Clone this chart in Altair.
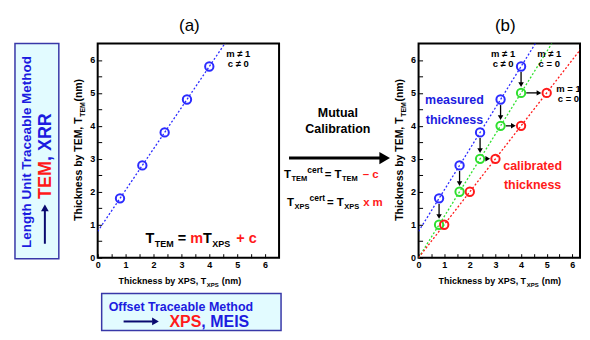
import altair as alt
import pandas as pd

# ---------------- data ----------------
txps_measured = [0.8, 1.6, 2.4, 3.2, 4.0]      # XPS thickness (nm), as measured
ttem_measured = [1.8, 2.8, 3.8, 4.8, 5.8]      # TEM thickness (nm), as measured
ttem_certified = [1.0, 2.0, 3.0, 4.0, 5.0]     # TEM thickness after "- c"
txps_certified = [1.0, 2.0, 3.0, 4.0, 5.0]     # XPS thickness after "x m"

measured_line_x = [0.0, 4.6]
measured_line_y = [0.8, 6.55]
tem_cert_line_x = [0.0, 5.2]
tem_cert_line_y = [0.0, 6.5]
calibrated_line_x = [0.0, 6.5]
calibrated_line_y = [0.0, 6.5]

tick_values = [0, 0.5, 1, 1.5, 2, 2.5, 3, 3.5, 4, 4.5, 5, 5.5, 6]

# ---------------- style ----------------
BLUE = "#2b2bff"
GREEN = "#2fe02f"
RED = "#ff1a1a"
TBLUE = "#1c1ce0"
NAVY = "#0a0a70"
BOXLINE = "#3838a8"
CYAN = "#e2fbff"
SANS = "Liberation Sans, Arial, sans-serif"

W_A, W_B, H = 182, 162, 215
XMAX_A, XMAX_B, YMAX = 6.5, 6.3, 6.5

AW = {' ': 278, 'T': 611, 'E': 667, 'M': 833, 'X': 667, 'P': 667, 'S': 667, 'c': 556,
      'e': 556, 'r': 389, 't': 333, 'm': 889, '=': 584, '–': 556, '+': 584, 'x': 556, 'h': 611,
      'i': 278, 'k': 556, 'n': 611, 's': 556, 'b': 611, 'y': 556, ',': 278, '(': 333, ')': 333,
      'R': 722, 'a': 556, 'l': 278, 'u': 611, 'd': 611, 'o': 611, 'f': 333, 'g': 611, 'L': 611,
      'U': 722, 'C': 722, '0': 556, '1': 556, '≠': 584}


def tw(s, size):
    return sum(AW.get(ch, 556) for ch in s) * size / 1000


def txt(x, y, s, size, color="black", weight="bold", align="left",
        baseline="alphabetic", angle=None):
    kw = dict(align=align, baseline=baseline, font=SANS, fontSize=size, fontWeight=weight, color=color)
    if angle is not None:
        kw["angle"] = angle
    return alt.Chart().mark_text(**kw).encode(x=alt.value(x), y=alt.value(y), text=alt.value(s))


def run_h(segs, x0, y0):
    """segs: (text, size, color, dy, gap-before in px); no leading/trailing spaces in text"""
    out, x = [], x0
    for s, size, color, dy, gap in segs:
        x += gap
        out.append(txt(x, y0 + dy, s, size, color))
        x += tw(s, size)
    return out


def run_v(segs, x0, y0):
    out, y = [], y0
    for s, size, color, dx, gap in segs:
        y -= gap
        out.append(txt(x0 + dx, y, s, size, color, angle=270))
        y -= tw(s, size)
    return out


def axis():
    return alt.Axis(values=tick_values,
                    labelExpr="datum.value % 1 === 0 ? '' + datum.value : ''",
                    tickSize=4, offset=-4, domain=False, grid=False, title=None,
                    labelFont=SANS, labelFontSize=9, labelFontWeight="bold", labelColor="black",
                    tickColor="black", tickWidth=1, labelPadding=3, labelFlush=False,
                    labelOverlap=False)


def X(xmax, field="x"):
    return alt.X(f"{field}:Q", scale=alt.Scale(domain=[0, xmax], nice=False, zero=False), axis=axis())


def Y(field="y"):
    return alt.Y(f"{field}:Q", scale=alt.Scale(domain=[0, YMAX], nice=False, zero=False), axis=axis())


def line(xs, ys, color, xmax):
    df = pd.DataFrame({"x": xs, "y": ys})
    return alt.Chart(df).mark_line(color=color, strokeDash=[2, 2], strokeWidth=1.3, clip=True).encode(
        x=X(xmax), y=Y())


def pts(xs, ys, color, xmax):
    df = pd.DataFrame({"x": xs, "y": ys})
    return alt.Chart(df).mark_point(shape="circle", filled=False, size=70, strokeWidth=2,
                                    color=color, opacity=1).encode(x=X(xmax), y=Y())


K = "black"

# ---------------- panel (a) ----------------
ax = lambda v: v * W_A / XMAX_A
ay = lambda v: H - v * H / YMAX

a_layers = [
    line(measured_line_x, measured_line_y, BLUE, XMAX_A),
    pts(txps_measured, ttem_measured, BLUE, XMAX_A),
    txt(92, -17, "(a)", 17, K, weight="normal", align="center", baseline="middle"),
    txt(ax(5.04), ay(6.19), "m ≠ 1", 9.5, K, align="center", baseline="middle"),
    txt(ax(5.04), ay(5.87), "c ≠ 0", 9.5, K, align="center", baseline="middle"),
]
a_layers += run_h([("T", 14.5, K, 0, 0), ("TEM", 9, K, 4, 0.5), ("=", 14.5, K, 0, 4),
                   ("m", 14.5, RED, 0, 4), ("T", 14.5, K, 0, 0), ("XPS", 9, K, 4, 0.5),
                   ("+", 14.5, RED, 0, 6), ("c", 14.5, RED, 0, 4)], 48, 200)
a_layers += run_h([("Thickness by XPS, T", 9, K, 0, 0), ("XPS", 6, K, 3, 0.5),
                   ("(nm)", 9, K, 0, 3)], 21, 241)
a_layers += run_v([("Thickness by TEM, T", 10.5, K, 0, 0), ("TEM", 7, K, 3, 0.5),
                   ("(nm)", 10.5, K, 0, 0.5)], -16, 178)

# left box (length-unit traceable method)
a_layers += [
    alt.Chart().mark_rect(fill=CYAN, stroke=BOXLINE, strokeWidth=1.5).encode(
        x=alt.value(-83), x2=alt.value(-39), y=alt.value(0), y2=alt.value(216)),
    txt(-71, 109, "Length Unit Traceable Method", 13.5, TBLUE, align="center",
        baseline="middle", angle=270),
    alt.Chart().mark_rule(color=NAVY, strokeWidth=2).encode(
        x=alt.value(-53), y=alt.value(201), y2=alt.value(168)),
    alt.Chart().mark_point(shape="triangle-up", filled=True, size=60, color=NAVY, opacity=1).encode(
        x=alt.value(-53), y=alt.value(165)),
]
a_layers += run_v([("TEM", 18, RED, 0, 0), (",", 18, TBLUE, 0, 0), ("XRR", 18, TBLUE, 0, 5)], -47, 156)

# bottom box (offset traceable method)
a_layers += [
    alt.Chart().mark_rect(fill=CYAN, stroke=BOXLINE, strokeWidth=1.5).encode(
        x=alt.value(4), x2=alt.value(184), y=alt.value(251), y2=alt.value(288)),
    txt(11, 264, "Offset Traceable Method", 12.5, TBLUE, baseline="middle"),
    alt.Chart().mark_rule(color=NAVY, strokeWidth=2).encode(
        x=alt.value(26), x2=alt.value(55), y=alt.value(279)),
    alt.Chart().mark_point(shape="triangle-right", filled=True, size=60, color=NAVY, opacity=1).encode(
        x=alt.value(58), y=alt.value(279)),
]
a_layers += run_h([("XPS", 16, RED, 0, 0), (",", 16, TBLUE, 0, 0), ("MEIS", 16, TBLUE, 0, 4.5)], 72, 285)

# middle: mutual calibration
a_layers += [
    txt(241, 70, "Mutual", 12.5, K, align="center", baseline="middle"),
    txt(241, 86, "Calibration", 12.5, K, align="center", baseline="middle"),
    alt.Chart().mark_rule(color=K, strokeWidth=3).encode(
        x=alt.value(192), x2=alt.value(284), y=alt.value(115)),
    alt.Chart().mark_point(shape="triangle-right", filled=True, size=150, color=K, opacity=1).encode(
        x=alt.value(288), y=alt.value(115)),
]
a_layers += run_h([("T", 11.5, K, 0, 0), ("TEM", 7.5, K, 3, 0.5), ("cert", 8.5, K, -5, 0),
                   ("=", 11.5, K, 0, 2), ("T", 11.5, K, 0, 3), ("TEM", 7.5, K, 3, 0.5),
                   ("–", 11.5, RED, 0, 5), ("c", 11.5, RED, 0, 3)], 187, 135)
a_layers += run_h([("T", 11.5, K, 0, 0), ("XPS", 7.5, K, 3, 0.5), ("cert", 8.5, K, -5, 0),
                   ("=", 11.5, K, 0, 2), ("T", 11.5, K, 0, 3), ("XPS", 7.5, K, 3, 0.5),
                   ("x", 11.5, RED, 0, 4), ("m", 11.5, RED, 0, 3)], 190, 163)

panel_a = alt.layer(*a_layers).properties(width=W_A, height=H)

# ---------------- panel (b) ----------------
bx = lambda v: v * W_B / XMAX_B
by = lambda v: H - v * H / YMAX

va = pd.DataFrame({"x": txps_measured,
                   "y": [v - 0.17 for v in ttem_measured],
                   "y2": [v + 0.25 for v in ttem_certified]})
va_head = pd.DataFrame({"x": txps_measured, "y": [v + 0.25 for v in ttem_certified]})
ha = pd.DataFrame({"xg": txps_measured, "xr": txps_certified, "y": ttem_certified})
ha = ha[ha["xr"] - ha["xg"] > 0.5]
ha = ha.assign(x=ha["xg"] + 0.2, x2=ha["xr"] - 0.3)
ha_head = pd.DataFrame({"x": ha["x2"], "y": ha["y"]})

b_layers = [
    line(measured_line_x, measured_line_y, BLUE, XMAX_B),
    line(tem_cert_line_x, tem_cert_line_y, GREEN, XMAX_B),
    line(calibrated_line_x, calibrated_line_y, RED, XMAX_B),
    alt.Chart(va).mark_rule(color=K, strokeWidth=1.3).encode(x=X(XMAX_B), y=Y(), y2="y2:Q"),
    alt.Chart(va_head).mark_point(shape="triangle-down", filled=True, size=30, color=K, opacity=1).encode(
        x=X(XMAX_B), y=Y()),
    alt.Chart(ha).mark_rule(color=K, strokeWidth=1.3).encode(x=X(XMAX_B), x2="x2:Q", y=Y()),
    alt.Chart(ha_head).mark_point(shape="triangle-right", filled=True, size=30, color=K, opacity=1).encode(
        x=X(XMAX_B), y=Y()),
    pts(txps_measured, ttem_measured, BLUE, XMAX_B),
    pts(txps_measured, ttem_certified, GREEN, XMAX_B),
    pts(txps_certified, ttem_certified, RED, XMAX_B),
    txt(87, -17, "(b)", 17, K, weight="normal", align="center", baseline="middle"),
    txt(bx(3.3), by(6.19), "m ≠ 1", 9.5, K, align="center", baseline="middle"),
    txt(bx(3.3), by(5.87), "c ≠ 0", 9.5, K, align="center", baseline="middle"),
    txt(bx(5.1), by(6.19), "m ≠ 1", 9.5, K, align="center", baseline="middle"),
    txt(bx(5.1), by(5.87), "c = 0", 9.5, K, align="center", baseline="middle"),
    txt(bx(5.85), by(5.12), "m = 1", 9.5, K, align="center", baseline="middle"),
    txt(bx(5.85), by(4.80), "c = 0", 9.5, K, align="center", baseline="middle"),
    txt(bx(1.4), by(4.77), "measured", 12.5, TBLUE, align="center", baseline="middle"),
    txt(bx(1.4), by(4.17), "thickness", 12.5, TBLUE, align="center", baseline="middle"),
    txt(bx(4.45), by(2.78), "calibrated", 12.5, RED, align="center", baseline="middle"),
    txt(bx(4.45), by(2.20), "thickness", 12.5, RED, align="center", baseline="middle"),
]
b_layers += run_h([("Thickness by XPS, T", 9, K, 0, 0), ("XPS", 6, K, 3, 0.5),
                   ("(nm)", 9, K, 0, 3)], 20, 241)
b_layers += run_v([("Thickness by TEM, T", 10.5, K, 0, 0), ("TEM", 7, K, 3, 0.5),
                   ("(nm)", 10.5, K, 0, 0.5)], -16, 178)

panel_b = alt.layer(*b_layers).properties(width=W_B, height=H)

chart = alt.hconcat(panel_a, panel_b, spacing=1).properties(
    padding={"left": 5, "top": 8, "right": 0, "bottom": 0},
    background="white",
).configure_view(stroke="black", strokeWidth=2)

chart.save("out.html", embed_options={"renderer": "svg", "actions": False})
